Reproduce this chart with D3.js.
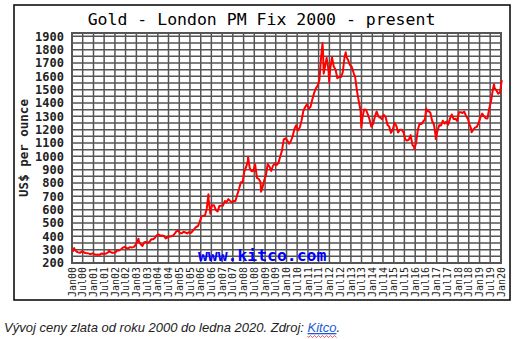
<!DOCTYPE html>
<html><head><meta charset="utf-8">
<script src="https://cdn.jsdelivr.net/npm/d3@7"></script>
<style>body{margin:0;background:#fff}svg{display:block}</style>
</head><body>
<script>
// ---- data ----
const title = "Gold - London PM Fix 2000 - present";
const yTitle = "US$ per ounce";
const watermark = "www.kitco.com";
const caption = "Vývoj ceny zlata od roku 2000 do ledna 2020. Zdroj: ";
const captionLink = "Kitco";
const startYear = 2000;
// monthly prices (USD/oz), Jan 2000 .. Jan 2020
const monthlyPrices = [
 285,300,287,280,276,286,282,275,274,270,266,272,
 266,262,263,261,272,270,268,273,283,283,276,276,
 282,296,294,303,315,321,313,310,319,317,319,333,
 357,359,341,328,356,357,351,360,379,379,390,408,
 414,405,407,403,384,392,398,401,405,421,439,442,
 424,423,434,429,422,431,425,438,456,470,477,510,
 550,555,557,611,677,596,634,633,598,586,628,630,
 631,665,655,679,667,656,665,665,713,755,806,803,
 890,922,968,910,889,890,940,839,830,807,761,816,
 859,943,924,890,929,946,934,949,997,1043,1127,1135,
 1118,1095,1113,1149,1205,1233,1193,1216,1271,1342,1370,1391,
 1356,1373,1424,1474,1510,1529,1573,1756,1772,1665,1739,1652,
 1656,1743,1674,1650,1586,1597,1594,1630,1745,1747,1722,1685,
 1672,1628,1593,1488,1414,1343,1286,1352,1349,1317,1276,1222,
 1244,1300,1336,1299,1289,1279,1311,1295,1237,1223,1176,1201,
 1251,1227,1179,1199,1199,1182,1128,1118,1125,1159,1086,1068,
 1098,1200,1245,1242,1261,1276,1337,1340,1327,1267,1238,1151,
 1192,1234,1231,1267,1246,1260,1237,1283,1314,1280,1282,1265,
 1331,1331,1325,1335,1303,1282,1238,1202,1198,1215,1221,1250,
 1292,1320,1301,1286,1284,1359,1413,1500,1511,1495,1470,1479,
 1572
];
// extra daily extremes visible in the chart
const extraDates = ["2000-02-07","2001-09-17","2003-02-05","2006-05-12","2006-06-14",
  "2008-03-17","2008-10-24","2011-09-06","2011-09-26","2011-12-29","2012-10-05",
  "2013-06-28","2015-12-17","2016-07-06","2016-12-15","2018-08-16","2019-09-04"];
const extraPrices = [312,293,382,715,570,995,735,1850,1620,1560,1780,1215,1055,1360,1130,1180,1540];
const yTicks = [200,300,400,500,600,700,800,900,1000,1100,1200,1300,1400,1500,1600,1700,1800,1900];

// ---- layout ----
const W = 522, H = 339;
const plot = {x0: 72, x1: 501, y0: 33, y1: 263};
const svg = d3.select("body").append("svg").attr("width", W).attr("height", H);

svg.append("rect").attr("x", 14).attr("y", 5).attr("width", 496).attr("height", 295)
  .attr("fill", "#fff").attr("stroke", "#000").attr("stroke-width", 1.5);

const x = d3.scaleTime().domain([new Date(2000,0,1), new Date(2020,0,1)]).range([plot.x0, plot.x1]);
const y = d3.scaleLinear().domain([200, 1925]).range([plot.y1, plot.y0]);

const parse = d3.timeParse("%Y-%m-%d");
let series = monthlyPrices.map((v, i) => ({d: new Date(startYear, i, 15), v}));
extraDates.forEach((s, i) => series.push({d: parse(s), v: extraPrices[i]}));
series.sort((a, b) => a.d - b.d);

// grid
const g = svg.append("g");
const halfYears = d3.timeMonth.every(6).range(new Date(2000,0,1), new Date(2020,0,2));
const gridY = d3.range(200, 1901, 50);
g.selectAll("line.h").data(gridY).join("line")
  .attr("x1", plot.x0).attr("x2", plot.x1).attr("y1", d => y(d)).attr("y2", d => y(d))
  .attr("stroke", "#555").attr("stroke-width", 1.5);
g.selectAll("line.v").data(halfYears).join("line")
  .attr("x1", d => x(d)).attr("x2", d => x(d)).attr("y1", plot.y0).attr("y2", plot.y1)
  .attr("stroke", "#555").attr("stroke-width", 1.5);
g.append("rect").attr("x", plot.x0).attr("y", plot.y0)
  .attr("width", plot.x1 - plot.x0).attr("height", plot.y1 - plot.y0)
  .attr("fill", "none").attr("stroke", "#555").attr("stroke-width", 2);

// watermark
svg.append("text").attr("x", 198).attr("y", 261)
  .attr("font-family", "DejaVu Sans Mono").attr("font-weight", "bold").attr("font-size", 16.4)
  .attr("fill", "#0000ff").text(watermark);

// line
svg.append("path").datum(series)
  .attr("d", d3.line().x(d => x(d.d)).y(d => y(d.v)))
  .attr("fill", "none").attr("stroke", "#ff0000").attr("stroke-width", 2).attr("stroke-linejoin", "round");

// y labels
svg.selectAll("text.yl").data(yTicks).join("text")
  .attr("x", 64).attr("y", d => y(d)).attr("dy", "0.36em").attr("text-anchor", "end")
  .attr("font-family", "DejaVu Sans Mono").attr("font-weight", "bold").attr("font-size", 12)
  .attr("fill", "#222").text(d => d);

// x labels
const fmt = d3.timeFormat("%b%y");
svg.selectAll("text.xl").data(halfYears).join("text")
  .attr("transform", d => `translate(${x(d)},267) rotate(-90)`)
  .attr("dy", "0.36em").attr("text-anchor", "end")
  .attr("font-family", "DejaVu Sans Mono").attr("font-size", 10)
  .attr("fill", "#222").text(d => fmt(d));

// y title
svg.append("text").attr("transform", "translate(28,148) rotate(-90)")
  .attr("text-anchor", "middle")
  .attr("font-family", "DejaVu Sans Mono").attr("font-weight", "bold").attr("font-size", 12.5)
  .attr("fill", "#222").text(yTitle);

// title
svg.append("text").attr("x", 261.5).attr("y", 24.5).attr("text-anchor", "middle")
  .attr("font-family", "DejaVu Sans Mono").attr("font-size", 16.5)
  .attr("fill", "#000").text(title);

// caption
const cap = svg.append("text").attr("x", 4).attr("y", 332)
  .attr("font-family", "Liberation Sans, Arial, sans-serif").attr("font-style", "italic")
  .attr("font-size", 13).attr("fill", "#222");
cap.append("tspan").text(caption);
cap.append("tspan").attr("fill", "#1a5bd6").attr("text-decoration", "underline").text(captionLink);
cap.append("tspan").text(".");
const node = cap.node();
const k0 = 4 + node.getSubStringLength(0, caption.length);
const kw = node.getSubStringLength(caption.length, captionLink.length);
let wave = `M${k0},336`;
for (let px = k0; px < k0 + kw; px += 2) wave += ` L${px + 1},${(px - k0) % 4 < 2 ? 337.5 : 335.5}`;
svg.append("path").attr("d", wave).attr("fill", "none").attr("stroke", "#e33").attr("stroke-width", 0.8);
</script>
</body></html>
